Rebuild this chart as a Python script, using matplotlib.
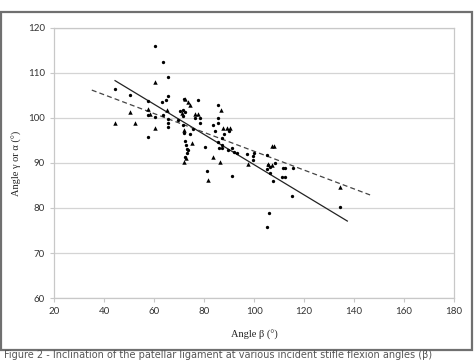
import matplotlib
matplotlib.use("Agg")
import matplotlib.pyplot as plt
from matplotlib.patches import Rectangle

# ----------------------------------
# Data
# ----------------------------------

circle_x = [44.4, 50.4, 60.4, 63.5, 65.5, 65.5, 63.3, 64.6, 57.5, 57.7,
            60.5, 63.5, 65.5, 65.5, 65.5, 57.7, 69.7, 70.4, 71.5, 72.4,
            72.0, 77.5, 71.7, 71.5, 72.1, 72.4, 72.7, 73.5, 72.4, 74.4,
            75.5, 76.4, 78.4, 78.4, 80.4, 81.3, 91.3, 83.7, 85.7, 85.5,
            84.4, 85.7, 87.2, 88.0, 85.7, 87.1, 86.0, 87.2, 89.6, 91.1,
            93.1, 92.0, 97.3, 99.7, 99.7, 100.0, 105.0, 105.5, 106.4, 105.0,
            106.4, 107.7, 108.4, 111.7, 112.4, 115.5, 111.0, 112.4, 115.3, 134.4,
            106.1, 105.3, 73.0, 73.0, 90.0]
circle_y = [106.4, 105.0, 116.1, 112.4, 109.0, 104.9, 103.5, 104.0, 103.8, 100.7,
            100.3, 100.6, 99.8, 98.8, 97.9, 95.8, 99.6, 101.6, 101.8, 101.4,
            104.2, 103.9, 100.5, 98.4, 96.6, 94.9, 93.9, 92.9, 91.3, 96.4,
            97.6, 99.9, 99.9, 98.8, 93.6, 88.3, 87.0, 98.4, 102.9, 99.9,
            97.0, 98.8, 95.5, 96.5, 94.7, 94.0, 93.3, 93.3, 92.9, 93.3,
            92.2, 92.5, 91.9, 91.5, 90.6, 92.3, 91.8, 89.6, 89.0, 88.6,
            87.7, 85.9, 90.0, 88.9, 88.9, 88.8, 86.8, 86.8, 82.7, 80.3,
            78.8, 75.7, 93.0, 92.3, 97.0]

triangle_x = [44.4, 52.4, 50.4, 60.4, 60.4, 57.7, 58.5, 65.0, 72.4, 73.5,
              74.4, 76.4, 77.5, 72.1, 72.7, 75.0, 81.5, 83.7, 86.4, 86.8,
              87.7, 89.0, 90.4, 97.7, 107.1, 107.8, 134.4, 72.0, 71.3, 105.7,
              107.0]
triangle_y = [98.8, 98.8, 101.4, 97.7, 107.9, 101.9, 100.8, 101.8, 104.2, 103.6,
              102.9, 100.9, 100.9, 90.3, 91.2, 94.4, 86.2, 91.4, 90.3, 101.8,
              97.7, 97.7, 97.7, 89.8, 93.8, 93.8, 84.7, 97.3, 101.1, 89.7,
              89.5]

# trend lines (end points)
solid_x = [44.4, 137.3]
solid_y = [108.3, 77.1]
dashed_x = [35.1, 146.4]
dashed_y = [106.2, 82.9]

x_ticks = [20, 40, 60, 80, 100, 120, 140, 160, 180]
y_ticks = [60, 70, 80, 90, 100, 110, 120]

caption = ("Figure 2 - Inclination of the patellar ligament at various "
           "incident stifle flexion angles (\u03b2)")

# ----------------------------------
# Figure
# ----------------------------------

fig = plt.figure(figsize=(4.74, 3.61), dpi=100)

# scanned page frame
fig.patches.append(Rectangle((0.003, 0.031), 0.992, 0.936,
                             transform=fig.transFigure, fill=False,
                             edgecolor="#707070", linewidth=1.6))

ax = fig.add_axes([0.114, 0.1745, 0.844, 0.748])

ax.plot(circle_x, circle_y, "o", color="black", markersize=2.4,
        markeredgewidth=0, zorder=3)
ax.plot(triangle_x, triangle_y, "^", color="black", markersize=3.2,
        markeredgewidth=0, zorder=3)

ax.plot(solid_x, solid_y, "-", color="#222222", linewidth=0.9, zorder=2)
ax.plot(dashed_x, dashed_y, "--", color="#444444", linewidth=0.9,
        dashes=(4, 2.5), zorder=2)

ax.set_xlim(20, 180)
ax.set_ylim(60, 120)
ax.set_xticks(x_ticks)
ax.set_yticks(y_ticks)

ax.grid(axis="y", color="#d4d4d4", linewidth=0.9)
ax.set_axisbelow(True)

for side in ["left", "right", "top", "bottom"]:
    ax.spines[side].set_color("#c8c8c8")
    ax.spines[side].set_linewidth(0.9)

ax.tick_params(axis="both", colors="#c8c8c8", length=3, width=0.8,
               labelcolor="#333333", labelsize=7)
for lbl in ax.get_xticklabels() + ax.get_yticklabels():
    lbl.set_family("Lato")

ax.set_xlabel("Angle \u03b2 (\u00b0)", family="Liberation Serif",
              fontsize=7.5, color="#222222", labelpad=10)
ax.set_ylabel("Angle \u03b3 or \u03b1 (\u00b0)", family="Liberation Serif",
              fontsize=7.5, color="#222222", labelpad=4)

fig.text(0.008, 0.002, caption, family="DejaVu Sans", fontsize=7,
         color="#555555", ha="left", va="bottom")

fig.savefig("out.png", dpi=100)
plt.close(fig)
